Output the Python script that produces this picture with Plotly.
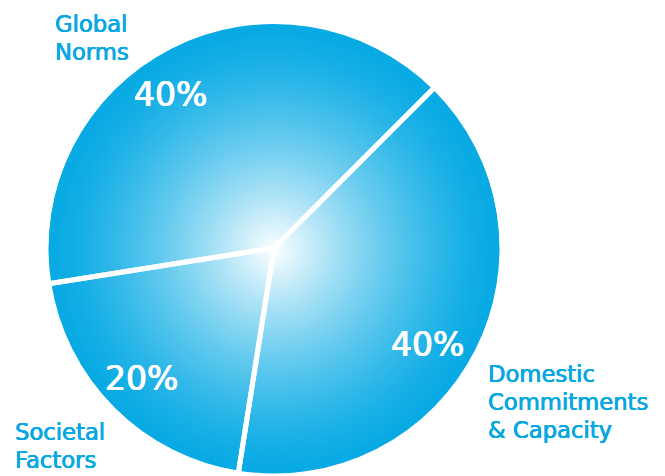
import plotly.graph_objects as go

# ---- data ----
categories = ["Domestic Commitments & Capacity", "Societal Factors", "Global Norms"]
values = [40, 20, 40]
label_lines = [["Domestic", "Commitments", "& Capacity"], ["Societal", "Factors"], ["Global", "Norms"]]

# ---- styling / layout constants ----
W, H = 665, 476
CX, CY, R = 274, 250, 226          # gradient pie centre and radius (px)
SX, SY, SR = 274, 248, 228         # separator pie centre and radius (px)
EDGE = (8, 170, 228)               # outer blue
WHITE = (255, 255, 255)
N_RINGS = 80
ROTATION = 45
FONT = "DejaVu Sans"

def mix(t):
    f = 1 - (1 - t) ** 1.4
    c = [round(WHITE[i] + (EDGE[i] - WHITE[i]) * f) for i in range(3)]
    return "rgb(%d,%d,%d)" % tuple(c)

def dom(cx, cy, r):
    return dict(x=[(cx - r) / W, (cx + r) / W],
                y=[max(0, (H - cy - r) / H), min(1, (H - cy + r) / H)])

fig = go.Figure()
# concentric pies build the radial gradient fill
for k in range(N_RINGS):
    t = 1 - k / N_RINGS
    r = R * t
    fig.add_trace(go.Pie(
        labels=categories, values=values, sort=False, direction="clockwise",
        rotation=ROTATION, domain=dom(CX, CY, r), textinfo="none", hoverinfo="skip",
        showlegend=False, marker=dict(colors=[mix(t)] * len(values), line=dict(width=0)),
    ))
# top pie: white separators
fig.add_trace(go.Pie(
    labels=categories, values=values, sort=False, direction="clockwise",
    rotation=ROTATION, domain=dom(SX, SY, SR), textinfo="none",
    hovertemplate="%{label}: %{percent}<extra></extra>",
    showlegend=False,
    marker=dict(colors=["rgba(0,0,0,0)"] * len(values), line=dict(color="white", width=5)),
))

total = sum(values)
pct_size = 33
lab_size = 22.7
pct_baseline = [(427, 356), (141, 390), (170, 106)]
lab_start = [(488, 381.7, 28.3), (15, 440, 28.3), (55, 31.7, 28.3)]
blue = "rgb(10,168,225)"

def mid_from_baseline(b, size):
    return b - 0.346 * size

def thicken(c, d):
    return "%.2fpx 0 0 %s, %.2fpx 0 0 %s, 0 %.2fpx 0 %s" % (d / 2, c, -d / 2, c, d / 3, c)

for i, cat in enumerate(categories):
    px, pb = pct_baseline[i]
    fig.add_annotation(x=px / W, y=1 - mid_from_baseline(pb, pct_size) / H,
                       xref="paper", yref="paper",
                       text="%d%%" % round(100 * values[i] / total), showarrow=False,
                       xanchor="center", yanchor="middle",
                       font=dict(family=FONT, size=pct_size, color="white",
                                 shadow=thicken("white", 0.9)))
    lx, lb, step = lab_start[i]
    for j, line in enumerate(label_lines[i]):
        b = lb + j * step
        fig.add_annotation(x=(lx - 2) / W, y=1 - mid_from_baseline(b, lab_size) / H,
                           xref="paper", yref="paper",
                           text=line, showarrow=False, align="left",
                           xanchor="left", yanchor="middle",
                           font=dict(family=FONT, size=lab_size, color=blue,
                                     shadow=thicken(blue, 0.6)))

fig.update_layout(width=W, height=H, margin=dict(l=0, r=0, t=0, b=0),
                  paper_bgcolor="white", plot_bgcolor="white")
fig.write_html("out.html")
